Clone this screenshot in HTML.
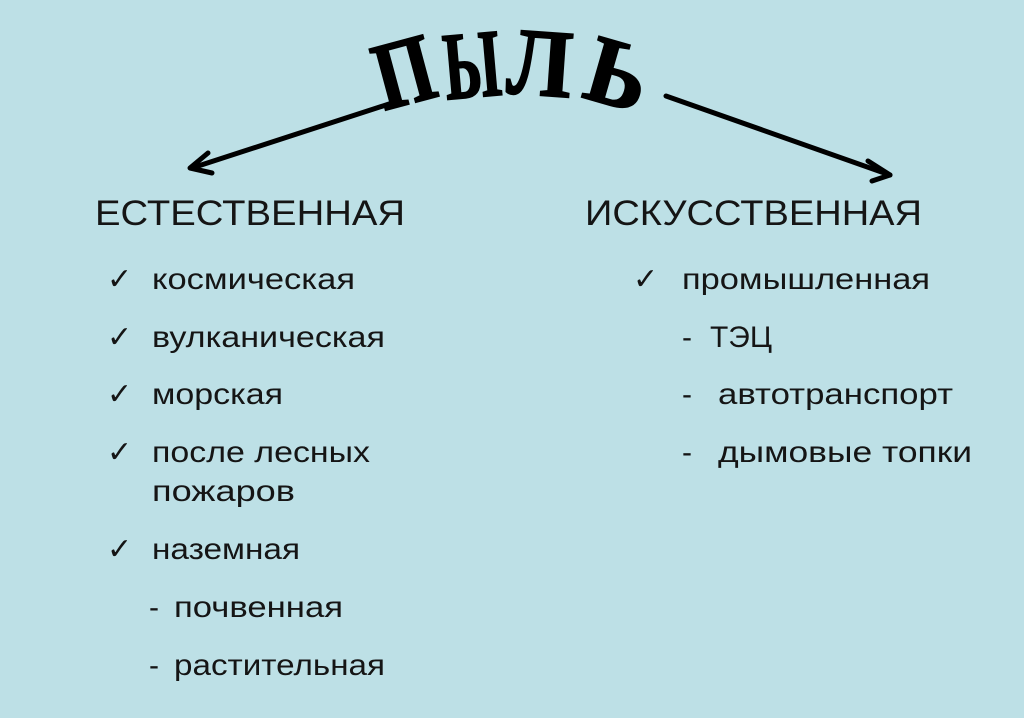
<!DOCTYPE html>
<html><head><meta charset="utf-8"><style>
html,body{margin:0;padding:0;background:#bde0e6;}
svg{display:block}
text{font-family:"Liberation Sans","DejaVu Sans",sans-serif;fill:#151515;}
.h{font-size:35px}
.t{font-size:30px}
.c{font-size:30px;font-family:"DejaVu Sans",sans-serif;}
.b{font-family:"Liberation Serif","DejaVu Serif",serif;font-weight:bold;font-size:96px;fill:#000}
</style></head><body>
<svg width="1024" height="718" viewBox="0 0 1024 718" xmlns="http://www.w3.org/2000/svg">
<rect width="1024" height="718" fill="#bde0e6"/>
<g stroke="#000" stroke-width="5" fill="none" stroke-linecap="round" stroke-linejoin="round">
<line x1="392" y1="103" x2="192" y2="168"/>
<polyline points="208,153 190,168 212,173"/>
<line x1="666" y1="96" x2="890" y2="175"/>
<polyline points="868,161 890,175 872,181"/>
</g>
<g transform="translate(404,72) rotate(-15) scale(0.78,1)"><text class="b" x="0" y="32" text-anchor="middle" stroke="#000" stroke-width="2">П</text></g>
<g transform="translate(472,65) rotate(-5) scale(0.6,1)"><text class="b" x="0" y="32" text-anchor="middle" stroke="#000" stroke-width="2">Ы</text></g>
<g transform="translate(540,63) rotate(4) scale(0.9,1)"><text class="b" x="0" y="32" text-anchor="middle" stroke="#000" stroke-width="2">Л</text></g>
<g transform="translate(618,74) rotate(16) scale(0.95,1)"><text class="b" x="0" y="32" text-anchor="middle" stroke="#000" stroke-width="2">Ь</text></g>

<text class="h" x="95" y="225" textLength="310" lengthAdjust="spacingAndGlyphs">ЕСТЕСТВЕННАЯ</text>
<text class="h" x="585" y="225" textLength="337" lengthAdjust="spacingAndGlyphs">ИСКУССТВЕННАЯ</text>

<text class="c" x="107" y="289">✓</text>
<text class="t" x="152" y="289" textLength="203" lengthAdjust="spacingAndGlyphs">космическая</text>
<text class="c" x="107" y="347">✓</text>
<text class="t" x="152" y="347" textLength="233" lengthAdjust="spacingAndGlyphs">вулканическая</text>
<text class="c" x="107" y="404">✓</text>
<text class="t" x="152" y="404" textLength="131" lengthAdjust="spacingAndGlyphs">морская</text>
<text class="c" x="107" y="462">✓</text>
<text class="t" x="152" y="462" textLength="218" lengthAdjust="spacingAndGlyphs">после лесных</text>
<text class="t" x="152" y="501" textLength="143" lengthAdjust="spacingAndGlyphs">пожаров</text>
<text class="c" x="107" y="559">✓</text>
<text class="t" x="152" y="559" textLength="148" lengthAdjust="spacingAndGlyphs">наземная</text>
<text class="t" x="149" y="617">-</text>
<text class="t" x="174" y="617" textLength="169" lengthAdjust="spacingAndGlyphs">почвенная</text>
<text class="t" x="149" y="675">-</text>
<text class="t" x="174" y="675" textLength="211" lengthAdjust="spacingAndGlyphs">растительная</text>

<text class="c" x="633" y="289">✓</text>
<text class="t" x="682" y="289" textLength="248" lengthAdjust="spacingAndGlyphs">промышленная</text>
<text class="t" x="682" y="347">-</text>
<text class="t" x="710" y="347" textLength="62" lengthAdjust="spacingAndGlyphs">ТЭЦ</text>
<text class="t" x="682" y="404">-</text>
<text class="t" x="718" y="404" textLength="235" lengthAdjust="spacingAndGlyphs">автотранспорт</text>
<text class="t" x="682" y="462">-</text>
<text class="t" x="718" y="462" textLength="254" lengthAdjust="spacingAndGlyphs">дымовые топки</text>
</svg>
</body></html>
